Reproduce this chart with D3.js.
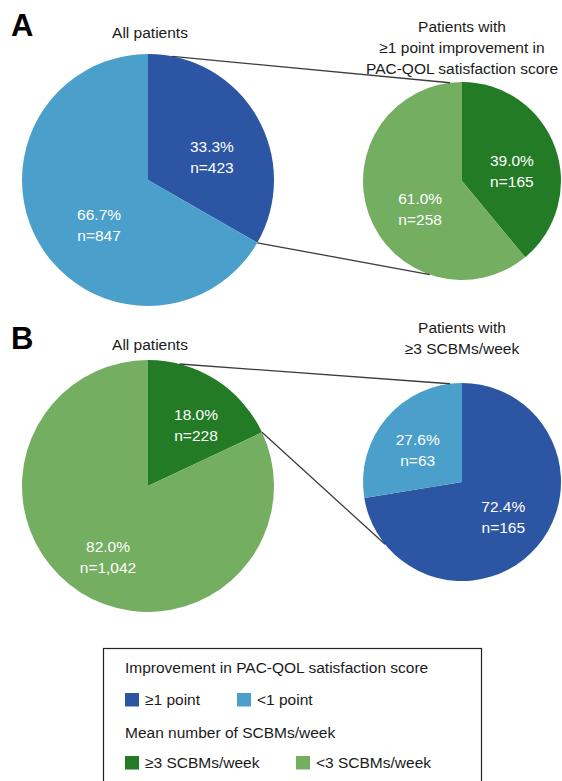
<!DOCTYPE html>
<html>
<head>
<meta charset="utf-8">
<script src="https://d3js.org/d3.v7.min.js"></script>
<style>
  body { margin: 0; background: #fff; }
  text { font-family: "Liberation Sans", Arial, sans-serif; }
</style>
</head>
<body>
<div id="chart"></div>
<script>
// categories
const improvementCats = ['≥1 point', '<1 point'];
const scbmCats = ['≥3 SCBMs/week', '<3 SCBMs/week'];

// panel A
const allImprovementPct = [33.3, 66.7];
const allImprovementN = ['423', '847'];
const improvedScbmPct = [39.0, 61.0];
const improvedScbmN = ['165', '258'];

// panel B
const allScbmPct = [18.0, 82.0];
const allScbmN = ['228', '1,042'];
const scbmImprovementPct = [72.4, 27.6];
const scbmImprovementN = ['165', '63'];

const improvementColors = ['#2c55a4', '#4b9fcb'];
const scbmColors = ['#237b25', '#74ae60'];

const width = 562, height = 781;
const fontSize = 15.5;

const svg = d3.select('#chart').append('svg')
    .attr('width', width)
    .attr('height', height);

function drawPie(cfg) {
    const pie = d3.pie().sort(null).value(d => d);
    const arcs = pie(cfg.values);
    const arc = d3.arc().innerRadius(0).outerRadius(cfg.r);
    const labelArc = d3.arc().innerRadius(cfg.r * 0.6).outerRadius(cfg.r * 0.6);

    const g = svg.append('g')
        .attr('transform', `translate(${cfg.cx},${cfg.cy})`);

    g.selectAll('path')
        .data(arcs)
        .join('path')
        .attr('d', arc)
        .attr('fill', (d, i) => cfg.colors[i]);

    arcs.forEach((d, i) => {
        const [x, y] = labelArc.centroid(d);
        const lx = x + cfg.nudge[i][0];
        const ly = y + cfg.nudge[i][1];
        g.append('text')
            .attr('x', lx)
            .attr('y', ly - 10.5 + 5.5)
            .attr('text-anchor', 'middle')
            .attr('fill', '#fff')
            .attr('font-size', fontSize)
            .text(d3.format('.1f')(d.data) + '%');
        g.append('text')
            .attr('x', lx)
            .attr('y', ly + 10.5 + 5.5)
            .attr('text-anchor', 'middle')
            .attr('fill', '#fff')
            .attr('font-size', fontSize)
            .text('n=' + cfg.counts[i]);
    });

    // title above
    cfg.title.forEach((t, i) => {
        svg.append('text')
            .attr('x', cfg.cx + (cfg.titleDx || 0))
            .attr('y', cfg.titleY + i * 21)
            .attr('text-anchor', 'middle')
            .attr('fill', '#1a1a1a')
            .attr('font-size', fontSize)
            .text(t);
    });

    // point on rim, angle in degrees clockwise from 12 o'clock
    return deg => {
        const a = deg * Math.PI / 180;
        return [cfg.cx + cfg.r * Math.sin(a), cfg.cy - cfg.r * Math.cos(a)];
    };
}

function connector(p, q) {
    svg.append('line')
        .attr('x1', p[0]).attr('y1', p[1])
        .attr('x2', q[0]).attr('y2', q[1])
        .attr('stroke', '#3c3c3c')
        .attr('stroke-width', 1.3);
}

function panelLetter(t, y) {
    svg.append('text')
        .attr('x', 11)
        .attr('y', y)
        .attr('font-size', 31)
        .attr('font-weight', 'bold')
        .attr('fill', '#000')
        .text(t);
}

// Panel A
panelLetter('A', 36);
const aLeft = drawPie({
    cx: 148, cy: 180, r: 126,
    values: allImprovementPct, counts: allImprovementN, colors: improvementColors,
    nudge: [[-1.5, 15], [16.5, 7]],
    title: ['All patients'], titleY: 38, titleDx: 2
});
const aRight = drawPie({
    cx: 462, cy: 181, r: 99,
    values: improvedScbmPct, counts: improvedScbmN, colors: scbmColors,
    nudge: [[-6, 10], [14, 8]],
    title: ['Patients with', '≥1 point improvement in', 'PAC-QOL satisfaction score'], titleY: 32
});
const aEnd = d3.pie().sort(null)(allImprovementPct)[0].endAngle * 180 / Math.PI;
connector(aLeft(11), aRight(-7));
connector(aLeft(aEnd), aRight(199));

// Panel B
panelLetter('B', 349);
const bLeft = drawPie({
    cx: 148, cy: 486, r: 126,
    values: allScbmPct, counts: allScbmN, colors: scbmColors,
    nudge: [[7.5, 2.5], [0.5, 7]],
    title: ['All patients'], titleY: 350, titleDx: 2
});
const bRight = drawPie({
    cx: 462, cy: 482, r: 99,
    values: scbmImprovementPct, counts: scbmImprovementN, colors: improvementColors,
    nudge: [[-4, -3.5], [1, 6]],
    title: ['Patients with', '≥3 SCBMs/week'], titleY: 333
});
const bEnd = d3.pie().sort(null)(allScbmPct)[0].endAngle * 180 / Math.PI;
connector(bLeft(14.5), bRight(-7));
connector(bLeft(bEnd), bRight(231));

// Legend
const legend = svg.append('g');
legend.append('rect')
    .attr('x', 103.5).attr('y', 648.5)
    .attr('width', 378).attr('height', 150)
    .attr('fill', '#fff')
    .attr('stroke', '#222')
    .attr('stroke-width', 1.2);

const legendGroups = [
    { title: 'Improvement in PAC-QOL satisfaction score', titleY: 673, rowY: 693, cats: improvementCats, colors: improvementColors, xs: [125, 237] },
    { title: 'Mean number of SCBMs/week', titleY: 738, rowY: 756, cats: scbmCats, colors: scbmColors, xs: [125, 296] }
];

legendGroups.forEach(grp => {
    legend.append('text')
        .attr('x', 125)
        .attr('y', grp.titleY)
        .attr('font-size', fontSize)
        .attr('fill', '#1a1a1a')
        .text(grp.title);
    grp.cats.forEach((c, i) => {
        legend.append('rect')
            .attr('x', grp.xs[i]).attr('y', grp.rowY)
            .attr('width', 14).attr('height', 13.5)
            .attr('fill', grp.colors[i]);
        legend.append('text')
            .attr('x', grp.xs[i] + 20)
            .attr('y', grp.rowY + 12)
            .attr('font-size', fontSize)
            .attr('fill', '#1a1a1a')
            .text(c);
    });
});
</script>
</body>
</html>
